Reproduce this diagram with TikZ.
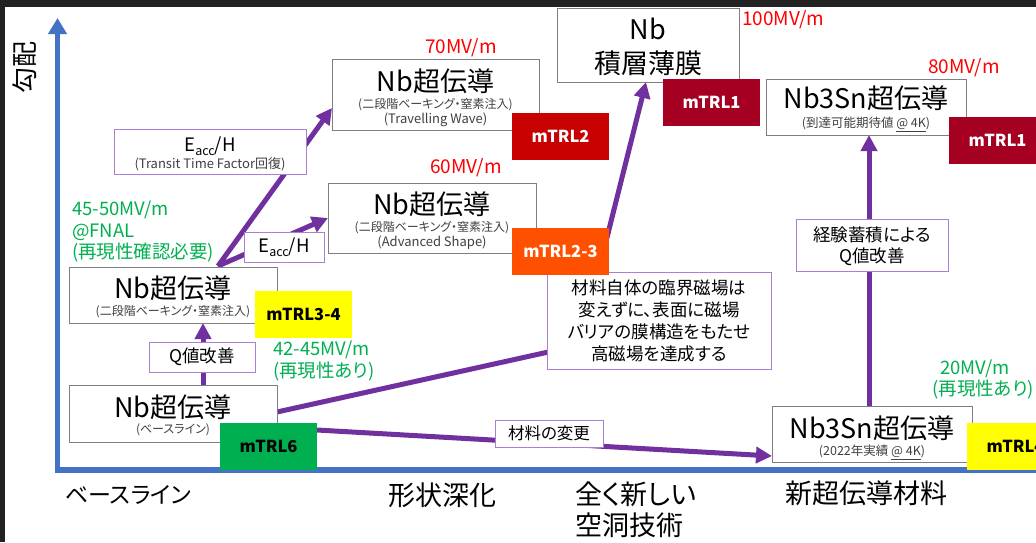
\documentclass[tikz,border=0pt]{standalone}
\usepackage{fontspec}
\setmainfont{Noto Sans CJK JP}[RawFeature=+palt]
\usetikzlibrary{arrows.meta}
\definecolor{axisblue}{HTML}{4472C4}
\definecolor{arrpurple}{HTML}{7030A0}
\definecolor{lblpurple}{HTML}{A880D4}
\definecolor{boxgray}{HTML}{7F7F7F}
\definecolor{subgray}{HTML}{404040}
\definecolor{redtxt}{HTML}{FF0000}
\definecolor{grntxt}{HTML}{00B050}
\definecolor{trlgreen}{HTML}{00B050}
\definecolor{trlyellow}{HTML}{FFFF00}
\definecolor{trlred}{HTML}{C80000}
\definecolor{trlorange}{HTML}{FF5000}
\definecolor{trlcrimson}{HTML}{A50021}
\definecolor{darkframe}{HTML}{222222}
\newcommand{\FS}[1]{\fontsize{#1pt}{#1pt}\selectfont}
\newcommand{\EaccH}[2]{\FS{#1}E\raisebox{-0.35ex}{\FS{#2}acc}/H}
\tikzset{
  bigbox/.style={draw=boxgray, fill=white, line width=0.9pt, inner sep=0pt},
  lblbox/.style={draw=lblpurple, fill=white, line width=0.9pt, inner sep=0pt, align=center},
  trl/.style={inner sep=0pt, minimum width=97pt, minimum height=47pt, font=\bfseries\FS{16.5}},
  arr/.style={draw=arrpurple, line width=5pt, line join=round, -{Triangle[length=16pt,width=16pt]}},
  ttl/.style={inner sep=0pt, font=\FS{27}, text=black},
  subt/.style={inner sep=0pt, font=\FS{12}, text=subgray},
  subl/.style={inner sep=0pt, font=\FS{13}, text=subgray},
  redlbl/.style={inner sep=0pt, font=\FS{19}, text=redtxt},
  grnlbl/.style={inner sep=0pt, font=\FS{18.5}, text=grntxt, anchor=west},
  axlbl/.style={inner sep=0pt, font=\FS{27}, text=black, anchor=west},
}
\begin{document}
\begin{tikzpicture}[x=1pt,y=-1pt]
\useasboundingbox (0,0) rectangle (1036,542);
\fill[white] (0,0) rectangle (1036,542);
\fill[darkframe] (0,0) rectangle (1036,7);
\fill[darkframe] (0,0) rectangle (5,542);

% axes
\coordinate (ytop) at (57.5,18);
\coordinate (origin) at (57.5,470);
\coordinate (xend) at (1040,470);
\draw[draw=axisblue, line width=5.5pt, line join=miter, {Triangle[length=16pt,width=18pt]}-] (ytop) -- (origin) -- (xend);
\node[inner sep=0pt, font=\FS{26}, rotate=90] (ylab) at (25,67) {勾配};

% axis labels
\node[axlbl, font=\FS{23}] (xl1) at (65,495) {ベースライン};
\node[axlbl] (xl2) at (388,495) {形状深化};
\node[axlbl] (xl3a) at (575,494) {全く新しい};
\node[axlbl] (xl3b) at (575,525) {空洞技術};
\node[axlbl] (xl4) at (785,493) {新超伝導材料};

% connector anchor points
\coordinate (s2) at (218,266);
\coordinate (e3) at (332,108);
\coordinate (e4) at (328,218);
\coordinate (bq) at (203,385);
\coordinate (tq) at (203,323);
\coordinate (sl) at (277,412);
\coordinate (bend) at (580,345);
\coordinate (b6) at (646,82);
\coordinate (s6) at (317,430);
\coordinate (ebot) at (772,456);
\coordinate (sv) at (869,406);
\coordinate (ev) at (869,135);

% arrows
\path[arr] (bq) -- (tq);
\path[arr] (s2) -- (e3);
\path[arr] (s2) -- (e4);
\path[arr] (sl) -- (bend) -- (b6);
\path[arr] (s6) -- (ebot);
\path[arr] (sv) -- (ev);

% boxes on top of arrows
\node[bigbox, minimum width=208pt, minimum height=57pt] (base) at (173,413.5) {};
\node[bigbox, minimum width=208pt, minimum height=56pt] (two) at (173,295) {};
\node[bigbox, minimum width=207pt, minimum height=71pt] (tw) at (435.5,94.5) {};
\node[bigbox, minimum width=208pt, minimum height=70pt] (adv) at (432,218) {};
\node[bigbox, minimum width=182pt, minimum height=74pt] (nbf) at (648,45) {};
\node[bigbox, minimum width=200pt, minimum height=56pt] (snt) at (866,107) {};
\node[bigbox, minimum width=200pt, minimum height=56pt] (snb) at (872,434) {};

% box texts
\node[ttl] (baset) at (173,407) {Nb超伝導};
\node[subt] (bases) at (173,430) {(ベースライン)};
\node[ttl] (twot) at (173,288) {Nb超伝導};
\node[subt] (twos) at (173,312) {(二段階ベーキング・窒素注入)};
\node[ttl] (twt) at (435.5,81) {Nb超伝導};
\node[subt] (tws1) at (435.5,105) {(二段階ベーキング・窒素注入)};
\node[subl] (tws2) at (435.5,120) {(Travelling Wave)};
\node[ttl] (advt) at (432,204) {Nb超伝導};
\node[subt] (advs1) at (432,228) {(二段階ベーキング・窒素注入)};
\node[subl] (advs2) at (432,243) {(Advanced Shape)};
\node[ttl] (nbft1) at (648,29) {Nb};
\node[ttl] (nbft2) at (648,63) {積層薄膜};
\node[ttl] (sntt) at (866,98) {Nb3Sn超伝導};
\node[subl, font=\FS{12.5}] (snts) at (866,124) {(到達可能期待値 \underline{@ 4K})};
\node[ttl] (snbt) at (872,428) {Nb3Sn超伝導};
\node[subl, font=\FS{12.5}] (snbs) at (872,452) {(2022年実績 \underline{@ 4K})};

% label boxes
\node[lblbox, minimum width=192pt, minimum height=45pt] (ttf) at (210,151.5) {};
\node[inner sep=0pt] (ttft1) at (210,146) {\EaccH{18.5}{12.5}};
\node[inner sep=0pt, font=\FS{13}, text=subgray] (ttft2) at (210,164) {(Transit Time Factor回復)};
\node[lblbox, minimum width=80pt, minimum height=30pt] (eh) at (284,247) {\EaccH{18.5}{12.5}};
\node[lblbox, minimum width=106pt, minimum height=30pt, font=\FS{17.5}] (qbox) at (202,357) {Q値改善};
\node[lblbox, minimum width=224pt, minimum height=97pt] (desc) at (659,320.5) {};
\node[inner sep=0pt, font=\FS{17.5}] (d1) at (659,288) {材料自体の臨界磁場は};
\node[inner sep=0pt, font=\FS{17.5}] (d2) at (659,310) {変えずに、表面に磁場};
\node[inner sep=0pt, font=\FS{17.5}] (d3) at (659,332) {バリアの膜構造をもたせ};
\node[inner sep=0pt, font=\FS{17.5}] (d4) at (659,354) {高磁場を達成する};
\node[lblbox, minimum width=108pt, minimum height=27pt, font=\FS{16.5}] (mat) at (549,433.5) {材料の変更};
\node[lblbox, minimum width=152pt, minimum height=52pt] (expb) at (872,245) {};
\node[inner sep=0pt, font=\FS{17.5}] (ex1) at (872,235) {経験蓄積による};
\node[inner sep=0pt, font=\FS{17.5}] (ex2) at (872,257) {Q値改善};

% mTRL boxes
\node[trl, fill=trlgreen, text=black] (m6) at (268.5,446.5) {mTRL6};
\node[trl, fill=trlyellow, text=black] (m34) at (303.5,314.5) {mTRL3-4};
\node[trl, fill=trlred, text=white] (m2) at (560.5,136.5) {mTRL2};
\node[trl, fill=trlorange, text=white] (m23) at (560.5,251) {mTRL2-3};
\node[trl, fill=trlcrimson, text=white] (m1a) at (711.5,102) {mTRL1};
\node[trl, fill=trlcrimson, text=white] (m1b) at (997.5,140) {mTRL1};
\node[trl, fill=trlyellow, text=black] (m4) at (1015.5,446.5) {mTRL4};

% value labels
\node[redlbl] (v70) at (461,48) {70MV/m};
\node[redlbl] (v60) at (466,168) {60MV/m};
\node[redlbl, anchor=west] (v100) at (742,20) {100MV/m};
\node[redlbl, anchor=west] (v80) at (928,68) {80MV/m};
\node[grnlbl] (g1) at (72,210) {45-50MV/m};
\node[grnlbl] (g2) at (72,232) {@FNAL};
\node[grnlbl] (g3) at (72,253) {(再現性確認必要)};
\node[grnlbl] (g4) at (273,350) {42-45MV/m};
\node[grnlbl] (g5) at (273,372) {(再現性あり)};
\node[grnlbl] (g6) at (940,369) {20MV/m};
\node[grnlbl, anchor=east] (g7) at (1034,390) {(再現性あり)};
\end{tikzpicture}
\end{document}
